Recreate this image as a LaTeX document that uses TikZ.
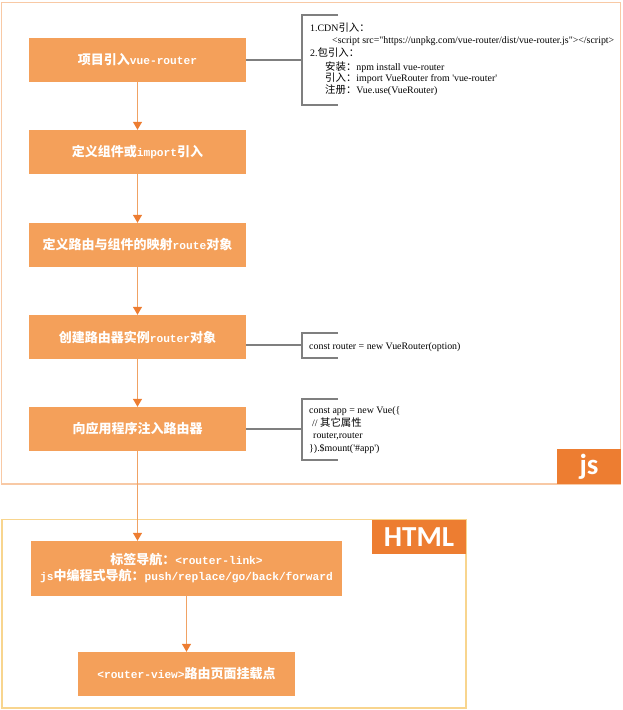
\documentclass[tikz,border=0pt]{standalone}
\usepackage{fontspec}
\setmainfont{Liberation Serif}[Ligatures=TeXOff]
\newfontfamily\cjk{Noto Sans CJK SC}
\newfontfamily\mono{Liberation Mono}
\newfontfamily\lab{Carlito}
\usetikzlibrary{arrows.meta}
\definecolor{boxfill}{HTML}{F4A05A}
\definecolor{dark}{HTML}{ED7D31}
\definecolor{jsline}{HTML}{F8C9A5}
\definecolor{htmlline}{HTML}{F8D58E}
\definecolor{brk}{HTML}{7F7F7F}
\definecolor{arrline}{HTML}{F0A264}
\newcommand\Zb[1]{{\cjk\bfseries #1}}
\newcommand\Mb[1]{{\mono\bfseries\fontsize{11.2bp}{16bp}\selectfont #1}}
\newcommand\Zn[1]{{\cjk\fontsize{10.4bp}{12bp}\selectfont #1}}
\tikzset{
  stepbox/.style={rectangle, fill=boxfill, text=white, minimum width=217bp, minimum height=44bp, inner sep=0pt, font=\fontsize{13bp}{16bp}\selectfont},
  flow/.style={draw=arrline, line width=1.2bp, -{Triangle[width=9bp,length=8bp,color=dark]}},
  brack/.style={draw=brk, line width=1.5bp},
  ann/.style={anchor=base west, inner sep=0pt, font=\fontsize{9.9bp}{12bp}\selectfont},
  tag/.style={rectangle, fill=dark, text=white, inner sep=0pt, font=\lab\bfseries\fontsize{29bp}{30bp}\selectfont},
}
\begin{document}
\begin{tikzpicture}[x=1bp,y=-1bp]
\useasboundingbox (0,0) rectangle (623,710);
% frames
\draw[jsline, line width=1.2bp] (1.5,2.5) rectangle (620.5,484);
\draw[htmlline, line width=1.2bp] (2,519.5) rectangle (466,708);
\node[tag, minimum width=64bp, minimum height=35bp] (jstag) at (589,466.5) {js};
\node[tag, minimum width=94bp, minimum height=34bp] (htmltag) at (419,537) {HTML};
% steps
\node[stepbox] (b1) at (137.5,60) {\Zb{项目引入}\Mb{vue-router}};
\node[stepbox] (b2) at (137.5,152) {\Zb{定义组件或}\Mb{import}\Zb{引入}};
\node[stepbox] (b3) at (137.5,245) {\Zb{定义路由与组件的映射}\Mb{route}\Zb{对象}};
\node[stepbox] (b4) at (137.5,337) {\Zb{创建路由器实例}\Mb{router}\Zb{对象}};
\node[stepbox] (b5) at (137.5,429) {\Zb{向应用程序注入路由器}};
\node[stepbox, minimum width=311bp, minimum height=55bp, align=center] (bA) at (186.5,568.5)
  {\Zb{标签导航：}\Mb{<router-link>}\\\Mb{js}\Zb{中编程式导航：}\Mb{push/replace/go/back/forward}};
\node[stepbox] (bB) at (186.5,674) {\Mb{<router-view>}\Zb{路由页面挂载点}};
% flow arrows
\draw[flow] (b1) -- (b2);
\draw[flow] (b2) -- (b3);
\draw[flow] (b3) -- (b4);
\draw[flow] (b4) -- (b5);
\draw[flow] (b5.south) -- (b5.south |- bA.north);
\draw[flow] (bA.south) -- (bA.south |- bB.north);
% brackets
\coordinate (k1t) at (302,15); \coordinate (k1b) at (302,105); \coordinate (k1m) at (302,60);
\coordinate (k4t) at (302,333); \coordinate (k4b) at (302,358); \coordinate (k4m) at (302,345);
\coordinate (k5t) at (302,399); \coordinate (k5b) at (302,460); \coordinate (k5m) at (302,429);
\draw[brack] (k1t) ++(36,0) -- (k1t) -- (k1b) -- ++(36,0);
\draw[brack] (k4t) ++(36,0) -- (k4t) -- (k4b) -- ++(36,0);
\draw[brack] (k5t) ++(36,0) -- (k5t) -- (k5b) -- ++(36,0);
\draw[brack] (b1.east) -- (k1m);
\draw[brack] (b4.east |- k4m) -- (k4m);
\draw[brack] (b5.east) -- (k5m);
% annotations
\node[ann] (a1) at (310,32) {1.CDN\Zn{引入：}};
\node[ann] (a2) at (332,43.5) {<script src="https://unpkg.com/vue-router/dist/vue-router.js"></script>};
\node[ann] (a3) at (310,57) {2.\Zn{包引入：}};
\node[ann] (a4) at (325,70.5) {\Zn{安装：}npm install vue-router};
\node[ann] (a5) at (325,81.5) {\Zn{引入：}import VueRouter from 'vue-router'};
\node[ann] (a6) at (325,93.5) {\Zn{注册：}Vue.use(VueRouter)};
\node[ann] (a7) at (309,349.5) {const router = new VueRouter(option)};
\node[ann] (a8) at (309,413.5) {const app = new Vue(\{};
\node[ann] (a9) at (312,426.5) {// \Zn{其它属性}};
\node[ann] (a10) at (313,438.5) {router,router};
\node[ann] (a11) at (309,451.5) {\}).\$mount('\#app')};
\end{tikzpicture}
\end{document}
